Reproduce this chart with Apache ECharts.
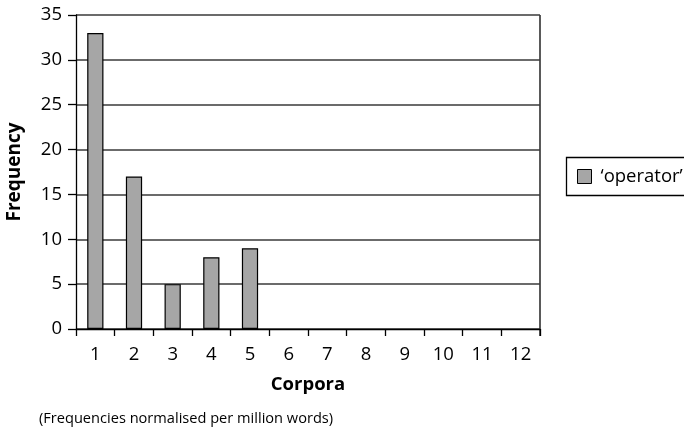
<!DOCTYPE html>
<html>
<head>
<meta charset="utf-8">
<script src="https://cdn.jsdelivr.net/npm/echarts@6/dist/echarts.min.js"></script>
<style>
  html, body { margin: 0; padding: 0; background: #fff; }
  #chart { width: 684px; height: 439px; }
</style>
</head>
<body>
<div id="chart"></div>
<script>
// Corpus numbers along the x axis
const corpora = ['1', '2', '3', '4', '5', '6', '7', '8', '9', '10', '11', '12'];
// Frequency of 'operator' in each corpus (per million words)
const operatorFreq = [33, 17, 5, 8, 9];
const seriesName = '\u2018operator\u2019';
const yMin = 0, yMax = 35, yStep = 5;

const FONT = '"Open Sans", "Noto Sans", sans-serif';
const chart = echarts.init(document.getElementById('chart'), null, { renderer: 'canvas' });

chart.setOption({
  animation: false,
  backgroundColor: '#ffffff',
  textStyle: { fontFamily: FONT, color: '#000' },
  grid: {
    left: 76, right: 144, top: 15, bottom: 110,
    containLabel: false,
    outerBoundsMode: 'none'
  },
  xAxis: {
    type: 'category',
    data: corpora,
    boundaryGap: true,
    name: 'Corpora',
    nameLocation: 'middle',
    nameGap: 46,
    nameTextStyle: { fontFamily: FONT, fontWeight: 'bold', fontSize: 18.5, color: '#000' },
    axisLine: { show: true, lineStyle: { color: '#000', width: 1.3 } },
    axisTick: { show: true, length: 7, lineStyle: { color: '#000', width: 1.3 } },
    axisLabel: { fontFamily: FONT, fontSize: 18.5, color: '#000', margin: 16 },
    splitLine: { show: false }
  },
  yAxis: {
    type: 'value',
    min: yMin,
    max: yMax,
    interval: yStep,
    name: 'Frequency',
    nameLocation: 'middle',
    nameGap: 52,
    nameRotate: 90,
    nameTextStyle: { fontFamily: FONT, fontWeight: 'bold', fontSize: 19, color: '#000' },
    axisLine: { show: true, lineStyle: { color: '#000', width: 1.3 } },
    axisTick: { show: true, length: 8, lineStyle: { color: '#000', width: 1.3 } },
    axisLabel: { fontFamily: FONT, fontSize: 18.5, color: '#000', margin: 14 },
    splitLine: { show: true, lineStyle: { color: '#3a3a3a', width: 1.6 } }
  },
  legend: {
    left: 572,
    top: 162,
    itemWidth: 14,
    itemHeight: 14,
    icon: 'rect',
    itemGap: 6,
    textStyle: { fontFamily: FONT, fontSize: 18.5, color: '#000', padding: [0, 0, 0, 4] },
    data: [{ name: seriesName, itemStyle: { color: '#a6a6a6', borderColor: '#000', borderWidth: 1 } }]
  },
  graphic: [
    {
      type: 'rect',
      left: 564,
      top: 155,
      shape: { width: 140, height: 38 },
      style: { fill: 'none', stroke: '#000', lineWidth: 1.3 },
      silent: true
    },
    // right border of the plot area
    {
      type: 'line',
      shape: { x1: 540, y1: 15, x2: 540, y2: 336 },
      style: { stroke: '#000', lineWidth: 1.3 },
      silent: true
    },
    {
      type: 'text',
      left: 39,
      top: 411,
      style: {
        text: '(Frequencies normalised per million words)',
        font: '14.6px ' + FONT,
        fill: '#000'
      }
    }
  ],
  series: [{
    name: seriesName,
    type: 'bar',
    data: operatorFreq,
    barWidth: '42%',
    itemStyle: { color: '#a6a6a6', borderColor: '#000', borderWidth: 1.2 }
  }]
});
</script>
</body>
</html>
